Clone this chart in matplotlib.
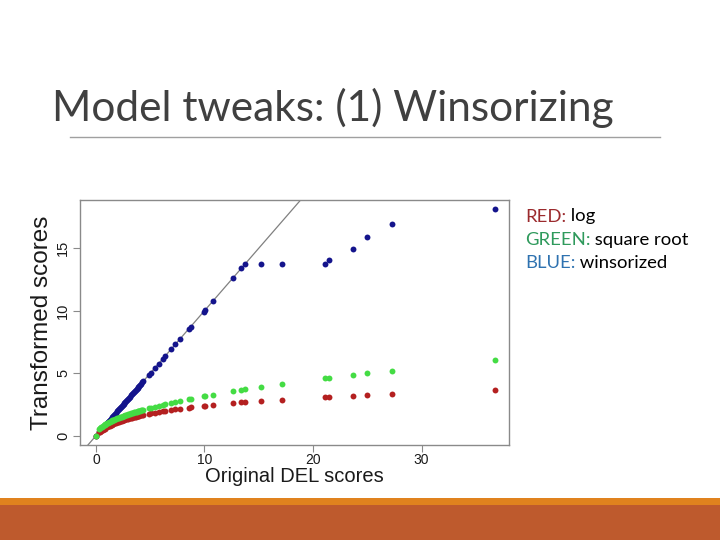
import matplotlib
matplotlib.use("Agg")
import matplotlib.pyplot as plt
from matplotlib.patches import Rectangle
from matplotlib.lines import Line2D

# Original DEL scores (x)
orig = [0.0, 0.31, 0.38, 0.47, 0.55, 0.62, 0.71, 0.79, 0.86, 0.95, 1.04, 1.12, 1.19,
        1.28, 1.37, 1.45, 1.52, 1.61, 1.70, 1.78, 1.86, 1.95, 2.03, 2.12, 2.20,
        2.29, 2.37, 2.46, 2.55, 2.63, 2.71, 2.80, 2.88, 2.97, 3.06, 3.14, 3.23,
        3.31, 3.40, 3.49, 3.57, 3.66, 3.75, 3.83, 3.92, 4.01, 4.10, 4.18, 4.27,
        4.36, 4.88, 5.04, 5.41, 5.78, 6.15, 6.39, 6.94, 7.31, 7.71, 8.57, 8.73,
        9.92, 10.08, 10.81, 12.63, 13.40, 13.73, 15.20, 17.16, 21.14, 21.45,
        23.70, 24.97, 27.28, 36.80]

# BLUE: winsorized
winsor = [0.0, 0.31, 0.38, 0.47, 0.55, 0.62, 0.71, 0.79, 0.86, 0.95, 1.04, 1.12, 1.19,
          1.28, 1.37, 1.45, 1.52, 1.61, 1.70, 1.78, 1.86, 1.95, 2.03, 2.12, 2.20,
          2.29, 2.37, 2.46, 2.55, 2.63, 2.71, 2.80, 2.88, 2.97, 3.06, 3.14, 3.23,
          3.31, 3.40, 3.49, 3.57, 3.66, 3.75, 3.83, 3.92, 4.01, 4.10, 4.18, 4.27,
          4.36, 4.88, 5.04, 5.41, 5.78, 6.15, 6.39, 6.94, 7.31, 7.71, 8.57, 8.73,
          9.92, 10.08, 10.81, 12.63, 13.40, 13.73, 13.73, 13.73, 13.73, 14.08,
          14.90, 15.87, 16.93, 18.13]

# GREEN: square root
sqrt_t = [0.0, 0.56, 0.62, 0.69, 0.74, 0.79, 0.84, 0.89, 0.93, 0.97, 1.02, 1.06, 1.09,
          1.13, 1.17, 1.20, 1.23, 1.27, 1.30, 1.33, 1.36, 1.40, 1.42, 1.46, 1.48,
          1.51, 1.54, 1.57, 1.60, 1.62, 1.65, 1.67, 1.70, 1.72, 1.75, 1.77, 1.80,
          1.82, 1.84, 1.87, 1.89, 1.91, 1.94, 1.96, 1.98, 2.00, 2.02, 2.04, 2.07,
          2.09, 2.21, 2.25, 2.33, 2.40, 2.48, 2.53, 2.63, 2.70, 2.78, 2.93, 2.95,
          3.15, 3.17, 3.29, 3.55, 3.66, 3.71, 3.90, 4.14, 4.60, 4.63, 4.87, 5.00,
          5.22, 6.07]

# RED: log
log_t = [0.0, 0.27, 0.32, 0.39, 0.44, 0.48, 0.54, 0.58, 0.62, 0.67, 0.71, 0.75, 0.78,
         0.82, 0.86, 0.90, 0.92, 0.96, 0.99, 1.02, 1.05, 1.08, 1.11, 1.14, 1.16,
         1.19, 1.22, 1.24, 1.27, 1.29, 1.31, 1.34, 1.36, 1.38, 1.40, 1.42, 1.44,
         1.46, 1.48, 1.50, 1.52, 1.54, 1.56, 1.58, 1.59, 1.61, 1.63, 1.65, 1.66,
         1.68, 1.77, 1.80, 1.86, 1.91, 1.97, 2.00, 2.07, 2.12, 2.16, 2.26, 2.28,
         2.39, 2.41, 2.47, 2.61, 2.67, 2.69, 2.79, 2.90, 3.10, 3.11, 3.21, 3.26,
         3.34, 3.63]

fig = plt.figure(figsize=(7.2, 5.4), dpi=100)
fig.patch.set_facecolor("white")

# slide title + rule
fig.text(52 / 720, 1 - 121 / 540, "Model tweaks: (1) Winsorizing", family="Lato",
         fontsize=30.5, color="#404040", va="baseline")
fig.add_artist(Line2D([70 / 720, 660 / 720], [1 - 136.5 / 540] * 2,
                      color="#a0a0a0", lw=1))

# bottom bars
fig.add_artist(Rectangle((0, 0), 1, 35 / 540, transform=fig.transFigure,
                         color="#be5a2d", lw=0))
fig.add_artist(Rectangle((0, 35 / 540), 1, 7 / 540, transform=fig.transFigure,
                         color="#e0821e", lw=0))

ax = fig.add_axes([80 / 720, 95 / 540, 429 / 720, 245 / 540])
ax.axline((0, 0), slope=1, color="#808080", lw=0.9, zorder=1)
ax.scatter(orig, winsor, s=18, color="#14148c", lw=0, zorder=2)
ax.scatter(orig, log_t, s=18, color="#b42020", lw=0, zorder=3)
ax.scatter(orig, sqrt_t, s=18, color="#44dc44", lw=0, zorder=4)

ax.set_xlim(-1.47, 38.06)
ax.set_ylim(-0.74, 18.86)
ax.set_xticks([0, 10, 20, 30])
ax.set_yticks([0, 5, 10, 15])
for s in ax.spines.values():
    s.set_color("#8a8a8a")
    s.set_linewidth(1)
ax.tick_params(colors="#8a8a8a", length=5, width=0.8, labelcolor="#1a1a1a", pad=1)
ax.tick_params(axis="y", pad=2)
for t in ax.get_xticklabels():
    t.set_family("Liberation Sans")
    t.set_fontsize(10)
for t in ax.get_yticklabels():
    t.set_family("Liberation Sans")
    t.set_fontsize(10.5)
    t.set_rotation(90)
    t.set_va("center")
ax.set_xlabel("Original DEL scores", family="Liberation Sans", fontsize=14.5,
              color="#1a1a1a", labelpad=0)
ax.set_ylabel("Transformed scores", family="Liberation Sans", fontsize=17.5,
              color="#1a1a1a", labelpad=2)

# legend text at right
leg = [("RED:", " log", "#9b2a2d", 221.5),
       ("GREEN:", " square root", "#2f9a5c", 245),
       ("BLUE:", " winsorized", "#2e72b0", 268)]
for head, rest, col, yb in leg:
    t1 = fig.text(525 / 720, 1 - yb / 540, head, family="Lato", fontsize=13.3,
                  color=col, va="baseline")
    ax.annotate(rest, xy=(1, 0), xycoords=t1, va="bottom", ha="left",
                family="Lato", fontsize=13.3, color="black", annotation_clip=False)

fig.savefig("out.png", dpi=100)
